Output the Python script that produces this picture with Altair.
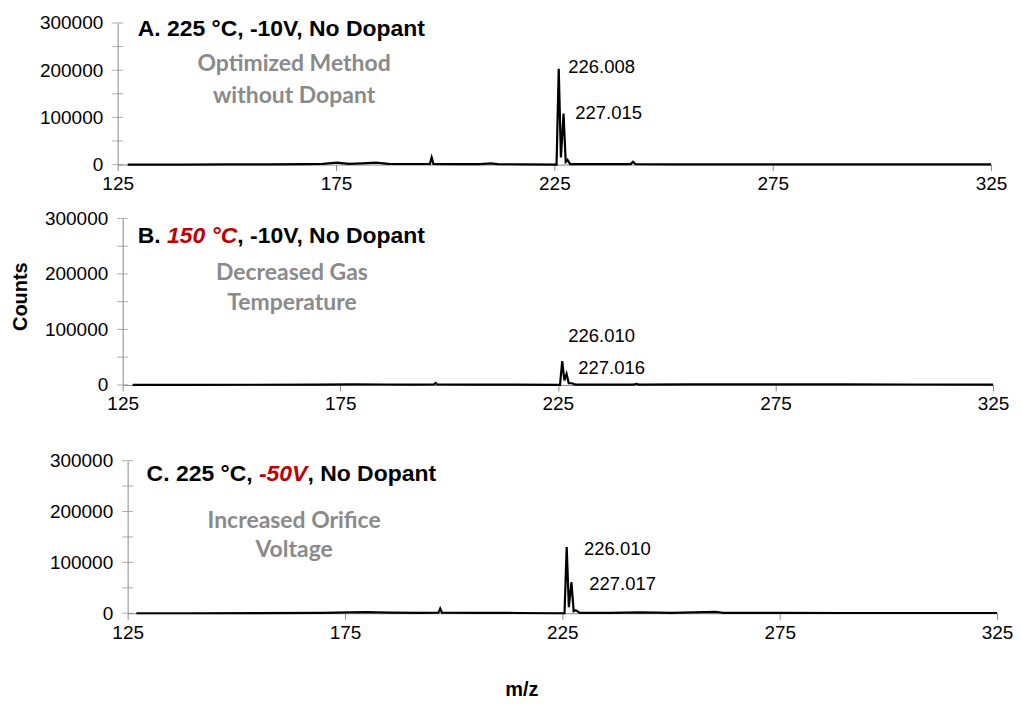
import altair as alt
import pandas as pd

# ---------------- data ----------------
x_ticks = [125, 175, 225, 275, 325]
y_ticks = [0, 50000, 100000, 150000, 200000, 250000, 300000]

# Panel A
mz_a = [127.3, 140.0, 150.0, 160.0, 168.0, 172.0, 175.2, 178.0, 181.0, 184.1, 187.0, 192.0,
        196.5, 196.9, 197.3, 202.0, 208.0, 210.4, 212.0, 218.0, 225.5, 226.0, 226.5, 227.1,
        227.6, 228.0, 228.6, 234.0, 242.5, 243.0, 243.6, 252.0, 265.0, 280.0, 295.0, 310.0, 325.0]
counts_a = [0, 0, 300, 600, 800, 1500, 4000, 1500, 2500, 4000, 1500, 1200,
            1500, 15000, 1500, 800, 800, 2500, 800, 600, 0, 203000, 15000, 108000,
            6000, 10000, 1000, 800, 1000, 6000, 800, 600, 600, 500, 600, 500, 500]

# Panel B
mz_b = [127.3, 140.0, 155.0, 170.0, 178.0, 185.0, 192.0, 196.5, 196.9, 197.3, 205.0, 215.0,
        225.5, 226.0, 226.5, 227.0, 227.5, 228.2, 229.0, 235.0, 242.5, 243.0, 243.6, 255.0,
        265.0, 275.0, 290.0, 305.0, 325.0]
counts_b = [0, 0, 300, 500, 800, 700, 600, 800, 3500, 800, 500, 400,
            0, 43000, 8000, 20000, 3000, 3000, 500, 500, 600, 2000, 600, 800,
            900, 800, 900, 700, 500]

# Panel C
mz_c = [127.0, 140.0, 155.0, 170.0, 176.0, 180.0, 185.0, 192.0, 196.5, 196.9, 197.3, 205.0,
        215.0, 225.5, 226.0, 226.5, 227.1, 227.6, 228.1, 229.0, 236.0, 243.0, 250.0, 260.3,
        262.0, 275.0, 290.0, 305.0, 325.0]
counts_c = [0, 0, 200, 600, 1500, 2000, 1200, 800, 1000, 9000, 1000, 600,
            500, 0, 130000, 12000, 61000, 4000, 6000, 800, 600, 1500, 600, 2500,
            600, 600, 500, 500, 500]

# Annotations (m/z, counts, text)
peaks_a = [(228.2, 207000, "226.008"), (229.8, 110000, "227.015")]
peaks_b = [(227.4, 88000, "226.010"), (229.7, 30500, "227.016")]
peaks_c = [(230.0, 125500, "226.010"), (231.2, 56900, "227.017")]

notes_a = [(165.4, 213400, "Optimized Method"), (165.4, 145800, "without Dopant")]
notes_b = [(163.9, 201200, "Decreased Gas"), (163.9, 147300, "Temperature")]
notes_c = [(163.3, 180400, "Increased Orifice"), (163.3, 123500, "Voltage")]

# title pieces: (text, is_red, dx)
title_a = (129.57, 287000, [("A. 225 °C, -10V, No Dopant", False, 0)])
title_b = (128.44, 267600, [("B.", False, 0), ("150 °C", True, 29.4), (", -10V, No Dopant", False, 100.0)])
title_c = (129.36, 274500, [("C. 225 °C,", False, 0), ("-50V", True, 112.7), (", No Dopant", False, 161.3)])

FONT = "Liberation Sans"
GRAY_FONT = "Lato"
RED = "#C00000"
AXIS_GRAY = "#8a8a8a"
W = 882


def panel(mz, counts, peaks, notes, title, xrng, height, top_gap, yoff, xtitle=None, ytitle=None):
    spec = pd.DataFrame({"mz": mz, "counts": counts})
    line = alt.Chart(spec).mark_line(color="black", strokeWidth=2.2)

    # y-axis tick marks crossing the axis line
    tk = pd.DataFrame({"mz": [x_ticks[0]] * len(y_ticks), "counts": y_ticks})
    ticks = alt.Chart(tk).mark_tick(orient="horizontal", size=11, thickness=1, color=AXIS_GRAY)

    pk = pd.DataFrame(peaks, columns=["mz", "counts", "label"])
    pk_text = alt.Chart(pk).mark_text(align="left", baseline="middle", font=FONT,
                                      fontSize=18.5, color="black").encode(text="label:N")

    nt = pd.DataFrame(notes, columns=["mz", "counts", "label"])
    nt_text = alt.Chart(nt).mark_text(align="center", baseline="middle", font=GRAY_FONT,
                                      fontSize=23, fontWeight="bold",
                                      color="#8a8a8a").encode(text="label:N")

    tx, ty, pieces = title
    tlayers = []
    for txt, red, dx in pieces:
        df = pd.DataFrame({"mz": [tx], "counts": [ty], "label": [txt]})
        kw = dict(align="left", baseline="middle", font=FONT, fontSize=23,
                  fontWeight="bold", color=RED if red else "black", dx=dx)
        if red:
            kw["fontStyle"] = "italic"
        tlayers.append(alt.Chart(df).mark_text(**kw).encode(text="label:N"))

    xaxis_kw = dict(values=x_ticks, format="d", tickSize=6, labelPadding=4, labelFlush=False,
                    domainColor=AXIS_GRAY, tickColor=AXIS_GRAY)
    if xtitle:
        xaxis_kw.update(title=xtitle, titleX=405, titleY=77, titleBaseline="middle")
    else:
        xaxis_kw.update(title=None)

    yaxis_kw = dict(values=y_ticks, format="d", ticks=False, labelPadding=15, offset=yoff,
                    labelFlush=False,
                    labelExpr="datum.value % 100000 === 0 ? datum.label : ''",
                    domainColor=AXIS_GRAY)
    if ytitle:
        yaxis_kw.update(title=ytitle, titleX=-102, titleY=78, titleBaseline="middle")
    else:
        yaxis_kw.update(title=None)

    total_h = height + top_gap
    return alt.layer(ticks, line, pk_text, nt_text, *tlayers).encode(
        x=alt.X("mz:Q", scale=alt.Scale(domain=[125, 325], range=xrng, nice=False, zero=False),
                axis=alt.Axis(**xaxis_kw)),
        y=alt.Y("counts:Q", scale=alt.Scale(domain=[0, 300000], range=[total_h, top_gap], nice=False),
                axis=alt.Axis(**yaxis_kw)),
    ).properties(width=W, height=total_h)


A = panel(mz_a, counts_a, peaks_a, notes_a, title_a, [0, 876], 142, 0, 0)
B = panel(mz_b, counts_b, peaks_b, notes_b, title_b, [5, 878], 167, 0, -5, ytitle="Counts")
C = panel(mz_c, counts_c, peaks_c, notes_c, title_c, [10, 882], 153, 22, -10, xtitle="m/z")

chart = alt.vconcat(A, B, C, spacing=54, bounds="flush").properties(
    padding={"left": 2, "top": 5, "right": 0, "bottom": 0}
).configure_view(stroke=None).configure_axis(
    grid=False, labelFont=FONT, labelFontSize=19, labelColor="black",
    titleFont=FONT, titleFontSize=20, titleFontWeight="bold", titleColor="black",
)

chart.save("out.html", embed_options={"renderer": "svg", "actions": False})
